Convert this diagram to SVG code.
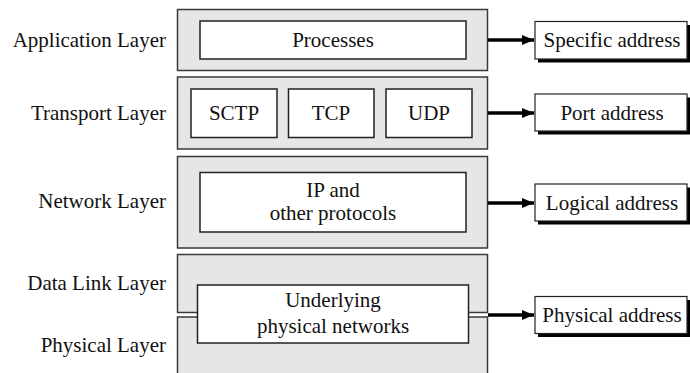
<svg xmlns="http://www.w3.org/2000/svg" width="690" height="373" viewBox="0 0 690 373" font-family="'Liberation Serif', 'Times New Roman', 'DejaVu Serif', serif" font-size="21">
<style>
.layer{fill:#e6e6e6;stroke:#3a3a3a;stroke-width:1.5}
.inner{fill:#fff;stroke:#222;stroke-width:1.5}
.addr{fill:#fff;stroke:#222;stroke-width:1.2}
.shadow{fill:#000}
text{font-family:'Liberation Serif','Times New Roman','DejaVu Serif',serif;font-size:21px;fill:#111}
.lbl{text-anchor:end}
.c{text-anchor:middle}
.conn{stroke:#000;stroke-width:3.5;fill:none;marker-end:url(#ah)}
</style>
<defs>
<marker id="ah" viewBox="0 0 12 10" refX="12" refY="5" markerWidth="12" markerHeight="10" markerUnits="userSpaceOnUse" orient="auto">
<path d="M0,0 L12,5 L0,10 Z" fill="#000"/>
</marker>
</defs>
<rect width="690" height="373" fill="#fff"/>
<g id="labels" font-family="Liberation Serif, serif">
<text class="lbl" x="166" y="47">Application Layer</text>
<text class="lbl" x="166" y="120">Transport Layer</text>
<text class="lbl" x="166" y="208">Network Layer</text>
<text class="lbl" x="166" y="290">Data Link Layer</text>
<text class="lbl" x="166" y="352">Physical Layer</text>
</g>
<g id="application-layer">
<rect class="layer" x="177.5" y="9.5" width="310" height="61"/>
</g>
<g id="processes">
<rect class="inner" x="200" y="21" width="266" height="38"/>
<text class="c" x="333" y="47">Processes</text>
</g>
<g id="transport-layer">
<rect class="layer" x="177.5" y="77" width="310" height="72"/>
</g>
<g id="sctp">
<rect class="inner" x="191" y="89" width="86" height="48.5"/>
<text class="c" x="234" y="120">SCTP</text>
</g>
<g id="tcp">
<rect class="inner" x="288.5" y="89" width="85.5" height="48.5"/>
<text class="c" x="331" y="120">TCP</text>
</g>
<g id="udp">
<rect class="inner" x="386" y="89" width="86" height="48.5"/>
<text class="c" x="429" y="120">UDP</text>
</g>
<g id="network-layer">
<rect class="layer" x="177.5" y="156.5" width="310" height="91.5"/>
</g>
<g id="ip">
<rect class="inner" x="200" y="172.5" width="266" height="59.5"/>
<text class="c" x="333" y="197">IP and</text>
<text class="c" x="333" y="220">other protocols</text>
</g>
<g id="data-link-layer">
<rect class="layer" x="177.5" y="254.5" width="310" height="58"/>
</g>
<g id="physical-layer">
<rect x="177.5" y="317" width="310" height="56" fill="#e6e6e6"/>
<path d="M177.5,373 V317 H487.5 V373" fill="none" stroke="#3a3a3a" stroke-width="1.5"/>
</g>
<g id="underlying">
<rect class="inner" x="197.5" y="285" width="271" height="58"/>
<text class="c" x="333" y="307">Underlying</text>
<text class="c" x="333" y="333">physical networks</text>
</g>
<g id="specific-address">
<rect class="shadow" x="538" y="25" width="152" height="37.5"/>
<rect class="addr" x="535" y="21.5" width="152" height="37.5"/>
<text class="c" x="612" y="47">Specific address</text>
</g>
<g id="port-address">
<rect class="shadow" x="538" y="97.5" width="152" height="37"/>
<rect class="addr" x="535" y="94" width="152" height="37"/>
<text class="c" x="612" y="120">Port address</text>
</g>
<g id="logical-address">
<rect class="shadow" x="538" y="187.5" width="152" height="37"/>
<rect class="addr" x="535" y="184" width="152" height="37"/>
<text class="c" x="612" y="210">Logical address</text>
</g>
<g id="physical-address">
<rect class="shadow" x="538" y="300" width="152" height="37"/>
<rect class="addr" x="535" y="296.5" width="152" height="37"/>
<text class="c" x="612" y="322">Physical address</text>
</g>
<g id="connectors">
<line class="conn" x1="488" y1="40" x2="534" y2="40"/>
<line class="conn" x1="488" y1="113" x2="534" y2="113"/>
<line class="conn" x1="488" y1="203" x2="534" y2="203"/>
<line class="conn" x1="488" y1="315" x2="534" y2="315"/>
</g>
</svg>
